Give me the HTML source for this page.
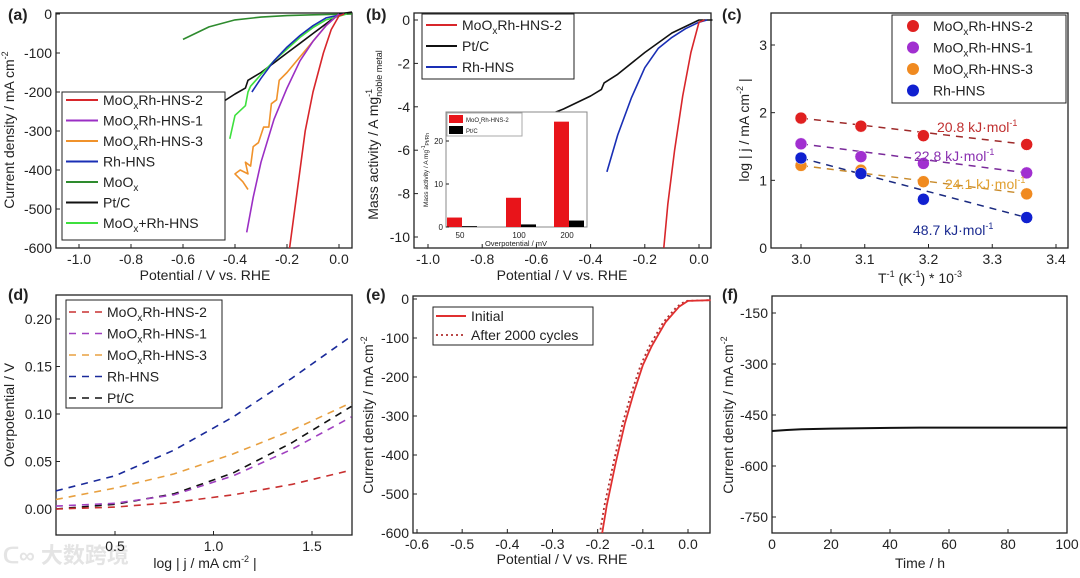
<!DOCTYPE html>
<html><head><meta charset="utf-8">
<style>
html,body{margin:0;padding:0;background:#fff;}
svg{display:block;font-family:"Liberation Sans","Noto Sans CJK SC",sans-serif;}
</style></head>
<body>
<svg id="fig" width="1080" height="578" viewBox="0 0 1080 578" xmlns="http://www.w3.org/2000/svg">
<text x="3" y="563" font-size="22" fill="#e4e4e4" font-weight="bold">ᑕ∞ 大数跨境</text>
</svg>
<script>
// ---------- DATA ----------
const aRedX=[0.02,0,-0.03,-0.06,-0.1,-0.13,-0.15,-0.17,-0.19];
const aRedY=[0,-5,-40,-100,-200,-300,-400,-500,-600];
const aPurX=[0,-0.05,-0.1,-0.15,-0.2,-0.25,-0.3,-0.33,-0.355];
const aPurY=[0,-30,-70,-120,-190,-270,-380,-470,-560];
const aOrgX=[0,-0.05,-0.1,-0.15,-0.2,-0.23,-0.24,-0.26,-0.27,-0.29,-0.31,-0.33,-0.34,-0.36,-0.35,-0.38,-0.40,-0.37,-0.35];
const aOrgY=[0,-30,-70,-110,-150,-170,-220,-230,-290,-290,-330,-340,-390,-380,-410,-400,-410,-430,-450];
const aBluX=[0.02,-0.05,-0.1,-0.15,-0.2,-0.25,-0.3,-0.335];
const aBluY=[0,-10,-30,-55,-85,-120,-165,-200];
const aMoX=[0.05,-0.1,-0.2,-0.3,-0.4,-0.5,-0.6];
const aMoY=[0,-2,-4,-8,-15,-33,-65];
const aPtX=[0.05,0,-0.05,-0.1,-0.15,-0.2,-0.25,-0.3,-0.35,-0.36,-0.4,-0.47];
const aPtY=[5,0,-25,-50,-75,-100,-125,-150,-170,-190,-205,-235];
const aMixX=[0.03,-0.05,-0.1,-0.15,-0.2,-0.25,-0.3,-0.34,-0.35,-0.36,-0.40,-0.42];
const aMixY=[0,-15,-35,-60,-90,-120,-155,-185,-200,-235,-260,-320];

const bRedX=[0.02,0,-0.03,-0.06,-0.09,-0.115,-0.13];
const bRedY=[0,-0.1,-1.5,-3.5,-6,-8.5,-10.5];
const bPtX=[0.05,0,-0.1,-0.2,-0.3,-0.35,-0.36,-0.4,-0.5,-0.6];
const bPtY=[0,0,-0.6,-1.5,-2.5,-2.9,-3.2,-3.5,-4.1,-4.6];
const bBluX=[0.03,0,-0.05,-0.1,-0.15,-0.2,-0.25,-0.3,-0.34];
const bBluY=[0,-0.1,-0.4,-0.8,-1.3,-2.2,-3.6,-5.3,-7];
const insetCats=["50","100","200"];
const insetRed=[2.2,6.8,24.5];
const insetBlack=[0.2,0.6,1.5];

const cX=[3.0,3.094,3.192,3.354];
const cRed=[1.92,1.80,1.66,1.53];
const cPur=[1.54,1.35,1.25,1.11];
const cOrg=[1.22,1.15,0.98,0.80];
const cBlu=[1.33,1.10,0.72,0.45];

const dX=[0.2,0.5,0.8,1.1,1.4,1.7];
const dRed=[0,0.002,0.007,0.015,0.026,0.041];
const dPur=[0.003,0.006,0.015,0.035,0.063,0.097];
const dOrg=[0.01,0.022,0.037,0.058,0.083,0.112];
const dBlu=[0.019,0.035,0.062,0.097,0.138,0.182];
const dBlk=[0,0.005,0.016,0.038,0.07,0.108];

const eX=[0.05,0.0,-0.02,-0.05,-0.08,-0.1,-0.12,-0.14,-0.16,-0.18,-0.19];
const eInit=[-3,-5,-20,-60,-120,-170,-240,-320,-420,-530,-600];
const eAfterShift=-0.005;

const fT=[0,5,10,20,30,40,50,60,70,80,90,100];
const fJ=[-497,-494,-492,-490,-489,-488,-487,-487,-487,-487,-487,-487];

// ---------- HELPERS ----------
const svg=document.getElementById('fig');
const NS='http://www.w3.org/2000/svg';
function mk(tag,attrs,parent){const e=document.createElementNS(NS,tag);for(const k in attrs)e.setAttribute(k,attrs[k]);(parent||svg).appendChild(e);return e;}
function lin(d0,d1,r0,r1){return v=>r0+(v-d0)*(r1-r0)/(d1-d0);}
function frame(x0,y0,x1,y1,name){const r=mk('rect',{x:x0,y:y0,width:x1-x0,height:y1-y0,fill:'none',stroke:'#222','stroke-width':1.3});}
function xticks(vals,labels,sx,yb,name){vals.forEach((v,i)=>{mk('line',{x1:sx(v),x2:sx(v),y1:yb,y2:yb-4,stroke:'#222'});const t=mk('text',{x:sx(v),y:yb+16,'font-size':14,'text-anchor':'middle',fill:'#222'});t.textContent=labels[i];});}
function yticks(vals,labels,sy,xl,name){vals.forEach((v,i)=>{mk('line',{x1:xl,x2:xl+4,y1:sy(v),y2:sy(v),stroke:'#222'});const t=mk('text',{x:xl-4,y:sy(v)+5,'font-size':14,'text-anchor':'end',fill:'#222'});t.textContent=labels[i];});}
function line(xs,ys,sx,sy,color,name,dash,w){const p=xs.map((x,i)=>sx(x).toFixed(1)+','+sy(ys[i]).toFixed(1)).join(' ');const a={points:p,fill:'none',stroke:color,'stroke-width':w||1.6,'stroke-linejoin':'round'};if(dash)a['stroke-dasharray']=dash;const e=mk('polyline',a);return e;}
function txt(x,y,html,size,anchor,name,extra){const t=mk('text',Object.assign({x:x,y:y,'font-size':size,'text-anchor':anchor||'start',fill:'#222'},extra||{}));t.innerHTML=html;return t;}
const SUBX='<tspan font-size="10" dy="4">x</tspan><tspan dy="-4">';
function moLabel(suffix){return 'MoO'+SUBX+suffix+'</tspan>';}

// ---------- PANEL A ----------
{const sx=lin(-1,0,79,339),sy=lin(0,-600,14,248);
txt(8,20,'(a)',16,'start','panel-a-label',{'font-weight':'bold'});
frame(56,13,352,248,'panel-a-frame');
xticks([-1,-0.8,-0.6,-0.4,-0.2,0],['-1.0','-0.8','-0.6','-0.4','-0.2','0.0'],sx,248,'a-x');
yticks([0,-100,-200,-300,-400,-500,-600],['0','-100','-200','-300','-400','-500','-600'],sy,56,'a-y');
txt(205,280,'Potential / V vs. RHE',14,'middle','a-x-title');
txt(0,0,'Current density / mA cm<tspan font-size="9" dy="-6">-2</tspan>',14,'middle','a-y-title',{transform:'translate(14,130) rotate(-90)'});
line(aMoX,aMoY,sx,sy,'#2e8b2e','a-moox-line');
line(aPtX,aPtY,sx,sy,'#111','a-ptc-line');
line(aMixX,aMixY,sx,sy,'#3ee03e','a-moox-rhhns-line');
line(aBluX,aBluY,sx,sy,'#1a2fb5','a-rhhns-line');
line(aOrgX,aOrgY,sx,sy,'#f0922b','a-hns3-line');
line(aPurX,aPurY,sx,sy,'#9b2fc4','a-hns1-line');
line(aRedX,aRedY,sx,sy,'#d8262b','a-hns2-line');
const lg=mk('rect',{x:62,y:92,width:163,height:148,fill:'#fff',stroke:'#222','stroke-width':1});
const ent=[['#d8262b',moLabel('Rh-HNS-2')],['#9b2fc4',moLabel('Rh-HNS-1')],['#f0922b',moLabel('Rh-HNS-3')],['#1a2fb5','Rh-HNS'],['#2e8b2e','MoO'+SUBX+'</tspan>'],['#111','Pt/C'],['#3ee03e',moLabel('+Rh-HNS')]];
ent.forEach((e,i)=>{const y=100+i*20.5;mk('line',{x1:66,x2:98,y1:y,y2:y,stroke:e[0],'stroke-width':2});txt(103,y+5,e[1],14,'start','a-legend-entry');});}

// ---------- PANEL B ----------
{const sx=lin(-1,0,428,699),sy=lin(0,-10,20,237);
txt(366,20,'(b)',16,'start','panel-b-label',{'font-weight':'bold'});
frame(414,13,711,248,'panel-b-frame');
xticks([-1,-0.8,-0.6,-0.4,-0.2,0],['-1.0','-0.8','-0.6','-0.4','-0.2','0.0'],sx,248,'b-x');
yticks([0,-2,-4,-6,-8,-10],['0','-2','-4','-6','-8','-10'],sy,414,'b-y');
txt(562,280,'Potential / V vs. RHE',14,'middle','b-x-title');
txt(0,0,'Mass activity / A mg<tspan font-size="9" dy="-6">-1</tspan><tspan font-size="9" dy="10" dx="-8">noble metal</tspan>',14,'middle','b-y-title',{transform:'translate(378,135) rotate(-90)'});
line(bPtX,bPtY,sx,sy,'#111','b-ptc-line');
line(bBluX,bBluY,sx,sy,'#1a2fb5','b-rhhns-line');
line(bRedX,bRedY,sx,sy,'#d8262b','b-hns2-line');
const lg=mk('rect',{x:422,y:14,width:152,height:65,fill:'#fff',stroke:'#222'});
[['#d8262b',moLabel('Rh-HNS-2')],['#111','Pt/C'],['#1a2fb5','Rh-HNS']].forEach((e,i)=>{const y=25+i*21;mk('line',{x1:426,x2:457,y1:y,y2:y,stroke:e[0],'stroke-width':2});txt(462,y+5,e[1],14,'start','b-legend-entry');});
// inset
const ib=mk('rect',{x:446,y:112,width:141,height:115,fill:'#fff',stroke:'#888'});
const isy=lin(0,20,227,141);const cx=[456,515,563];
insetCats.forEach((c,i)=>{
 const r=mk('rect',{x:cx[i]-9,y:isy(insetRed[i]),width:15,height:227-isy(insetRed[i]),fill:'#e8141a'});
 const k=mk('rect',{x:cx[i]+6,y:isy(insetBlack[i]),width:15,height:227-isy(insetBlack[i]),fill:'#000'});
 txt(cx[i]+4,238,c,8,'middle','inset-x-tick');});
[0,10,20].forEach(v=>{mk('line',{x1:446,x2:449,y1:isy(v),y2:isy(v),stroke:'#222'});txt(443,isy(v)+3,String(v),8,'end','inset-y-tick');});
txt(516,246,'Overpotential / mV',7.5,'middle','inset-x-title');
txt(0,0,'Mass activity / A mg<tspan font-size="5" dy="-3">-1</tspan><tspan font-size="5" dy="4">Pt/Rh</tspan>',6.5,'middle','inset-y-title',{transform:'translate(428,170) rotate(-90)'});
const il=mk('rect',{x:447,y:113,width:75,height:23,fill:'#fff',stroke:'#aaa'});
mk('rect',{x:449,y:115,width:14,height:8,fill:'#e8141a'});txt(466,122,'MoO<tspan font-size="4" dy="2">x</tspan><tspan dy="-2">Rh-HNS-2</tspan>',6,'start','inset-legend-entry');
mk('rect',{x:449,y:126,width:14,height:8,fill:'#000'});txt(466,133,'Pt/C',6,'start','inset-legend-entry');}

// ---------- PANEL C ----------
{const sx=lin(3.0,3.4,801,1056),sy=lin(0,3,248,45);
txt(722,20,'(c)',16,'start','panel-c-label',{'font-weight':'bold'});
frame(771,13,1068,248,'panel-c-frame');
xticks([3.0,3.1,3.2,3.3,3.4],['3.0','3.1','3.2','3.3','3.4'],sx,248,'c-x');
yticks([0,1,2,3],['0','1','2','3'],sy,771,'c-y');
txt(920,283,'T<tspan font-size="9" dy="-6">-1</tspan><tspan dy="6"> (K</tspan><tspan font-size="9" dy="-6">-1</tspan><tspan dy="6">) * 10</tspan><tspan font-size="9" dy="-6">-3</tspan>',14,'middle','c-x-title');
txt(0,0,'log | j / mA cm<tspan font-size="9" dy="-6">-2</tspan><tspan dy="6"> |</tspan>',14,'middle','c-y-title',{transform:'translate(749,130) rotate(-90)'});
const series=[[cRed,'#e02020','#9e2a2a','hns2'],[cPur,'#a12fd0','#7a2a9a','hns1'],[cOrg,'#f08a20','#c88a2a','hns3'],[cBlu,'#1020d0','#1a2a80','rhhns']];
series.forEach(s=>{
 const p=mk('line',{x1:sx(cX[0]),y1:sy(s[0][0]),x2:sx(cX[3]),y2:sy(s[0][3]),stroke:s[2],'stroke-width':1.5,'stroke-dasharray':'7,6'});
 cX.forEach((x,i)=>{const c=mk('circle',{cx:sx(x),cy:sy(s[0][i]),r:6,fill:s[1],stroke:'#fff','stroke-width':0.5});});});
txt(937,132,'20.8 kJ·mol<tspan font-size="9" dy="-6">-1</tspan>',14,'start','c-ea-hns2',{fill:'#c03030'});
txt(914,161,'22.8 kJ·mol<tspan font-size="9" dy="-6">-1</tspan>',14,'start','c-ea-hns1',{fill:'#8a30b0'});
txt(945,189,'24.1 kJ·mol<tspan font-size="9" dy="-6">-1</tspan>',14,'start','c-ea-hns3',{fill:'#e0a030'});
txt(913,235,'48.7 kJ·mol<tspan font-size="9" dy="-6">-1</tspan>',14,'start','c-ea-rhhns',{fill:'#1a2a90'});
const lg=mk('rect',{x:892,y:15,width:174,height:88,fill:'#fff',stroke:'#222'});
[['#e02020',moLabel('Rh-HNS-2')],['#a12fd0',moLabel('Rh-HNS-1')],['#f08a20',moLabel('Rh-HNS-3')],['#1020d0','Rh-HNS']].forEach((e,i)=>{const y=26+i*21.5;mk('circle',{cx:913,cy:y,r:6,fill:e[0]});txt(933,y+5,e[1],14,'start','c-legend-entry');});}

// ---------- PANEL D ----------
{const sx=lin(0.5,1.5,115,312),sy=lin(0,0.2,509,319);
txt(8,300,'(d)',16,'start','panel-d-label',{'font-weight':'bold'});
frame(56,295,352,535,'panel-d-frame');
xticks([0.5,1.0,1.5],['0.5','1.0','1.5'],sx,535,'d-x');
yticks([0,0.05,0.1,0.15,0.2],['0.00','0.05','0.10','0.15','0.20'],sy,56,'d-y');
txt(205,568,'log | j / mA cm<tspan font-size="9" dy="-6">-2</tspan><tspan dy="6"> |</tspan>',14,'middle','d-x-title');
txt(0,0,'Overpotential / V',14,'middle','d-y-title',{transform:'translate(14,415) rotate(-90)'});
const DA='7,6';
line(dX,dBlu,sx,sy,'#1a2a9a','d-rhhns-line',DA);
line(dX,dOrg,sx,sy,'#e8a040','d-hns3-line',DA);
line(dX,dBlk,sx,sy,'#111','d-ptc-line',DA);
line(dX,dPur,sx,sy,'#a040c0','d-hns1-line',DA);
line(dX,dRed,sx,sy,'#c83030','d-hns2-line',DA);
const lg=mk('rect',{x:66,y:300,width:156,height:108,fill:'#fff',stroke:'#222'});
[['#c83030',moLabel('Rh-HNS-2')],['#a040c0',moLabel('Rh-HNS-1')],['#e8a040',moLabel('Rh-HNS-3')],['#1a2a9a','Rh-HNS'],['#111','Pt/C']].forEach((e,i)=>{const y=312+i*21.5;mk('line',{x1:69,x2:102,y1:y,y2:y,stroke:e[0],'stroke-width':1.6,'stroke-dasharray':DA});txt(107,y+5,e[1],14,'start','d-legend-entry');});}

// ---------- PANEL E ----------
{const sx=lin(-0.6,0,417,688),sy=lin(0,-600,299,533);
txt(366,300,'(e)',16,'start','panel-e-label',{'font-weight':'bold'});
frame(413,296,710,533,'panel-e-frame');
xticks([-0.6,-0.5,-0.4,-0.3,-0.2,-0.1,0],['-0.6','-0.5','-0.4','-0.3','-0.2','-0.1','0.0'],sx,533,'e-x');
yticks([0,-100,-200,-300,-400,-500,-600],['0','-100','-200','-300','-400','-500','-600'],sy,413,'e-y');
txt(562,564,'Potential / V vs. RHE',14,'middle','e-x-title');
txt(0,0,'Current density / mA cm<tspan font-size="9" dy="-6">-2</tspan>',14,'middle','e-y-title',{transform:'translate(373,415) rotate(-90)'});
line(eX.map(x=>x+eAfterShift),eInit,sx,sy,'#b03030','e-after-line','2,3',1.8);
line(eX,eInit,sx,sy,'#e03030','e-initial-line',null,1.8);
const lg=mk('rect',{x:433,y:307,width:160,height:38,fill:'#fff',stroke:'#222'});
mk('line',{x1:436,x2:466,y1:316,y2:316,stroke:'#e03030','stroke-width':2});txt(471,321,'Initial',14,'start','e-legend-entry');
mk('line',{x1:436,x2:466,y1:335,y2:335,stroke:'#b03030','stroke-width':1.8,'stroke-dasharray':'2,3'});txt(471,340,'After 2000 cycles',14,'start','e-legend-entry');}

// ---------- PANEL F ----------
{const sx=lin(0,100,772,1067),sy=lin(-150,-750,313,517);
txt(722,300,'(f)',16,'start','panel-f-label',{'font-weight':'bold'});
frame(772,296,1067,533,'panel-f-frame');
xticks([0,20,40,60,80,100],['0','20','40','60','80','100'],sx,533,'f-x');
yticks([-150,-300,-450,-600,-750],['-150','-300','-450','-600','-750'],sy,772,'f-y');
txt(920,568,'Time / h',14,'middle','f-x-title');
txt(0,0,'Current density / mA cm<tspan font-size="9" dy="-6">-2</tspan>',14,'middle','f-y-title',{transform:'translate(733,415) rotate(-90)'});
line(fT,fJ,sx,sy,'#111','f-stability-line',null,2);}
</script>
</body></html>
